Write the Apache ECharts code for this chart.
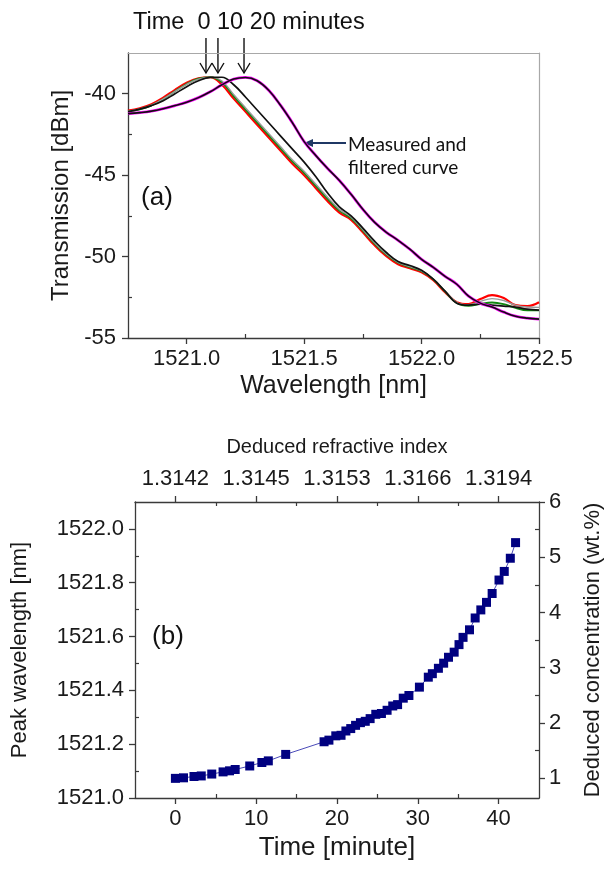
<!DOCTYPE html>
<html>
<head>
<meta charset="utf-8">
<title>Peak wavelength shift</title>
<script src="https://cdn.jsdelivr.net/npm/echarts@6.0.0/dist/echarts.min.js"></script>
<style>
  html, body { margin: 0; padding: 0; background: #fff; }
  #chart { width: 606px; height: 869px; }
</style>
</head>
<body>
<div id="chart"></div>
<script>
var wavelength = [1520.75, 1520.80, 1520.85, 1520.90, 1520.95, 1521.00, 1521.05, 1521.10, 1521.15, 1521.20,
  1521.25, 1521.30, 1521.35, 1521.40, 1521.45, 1521.50, 1521.55, 1521.60, 1521.65, 1521.70,
  1521.75, 1521.80, 1521.85, 1521.90, 1521.95, 1522.00, 1522.05, 1522.10, 1522.15, 1522.20,
  1522.25, 1522.30, 1522.35, 1522.40, 1522.45, 1522.50];

var specRed = [-41.04, -40.89, -40.64, -40.24, -39.76, -39.33, -39.05, -38.99, -39.45, -40.30,
  -41.10, -41.90, -42.70, -43.50, -44.30, -45.00, -45.80, -46.60, -47.30, -47.75,
  -48.51, -49.31, -49.98, -50.47, -50.72, -50.96, -51.45, -52.19, -52.80, -52.92,
  -52.61, -52.37, -52.55, -52.98, -53.04, -52.80];

var specGreen = [-41.10, -40.96, -40.72, -40.33, -39.85, -39.40, -39.08, -38.98, -39.30, -40.15,
  -40.96, -41.76, -42.56, -43.36, -44.16, -44.86, -45.66, -46.46, -47.18, -47.65,
  -48.40, -49.20, -49.88, -50.38, -50.65, -50.90, -51.40, -52.15, -52.85, -53.02,
  -52.90, -52.82, -52.92, -53.15, -53.30, -53.30];

var specGray = [-41.08, -40.93, -40.70, -40.32, -39.86, -39.42, -39.10, -38.98, -39.22, -40.05,
  -40.86, -41.66, -42.46, -43.26, -44.06, -44.76, -45.56, -46.36, -47.10, -47.58,
  -48.35, -49.15, -49.84, -50.35, -50.62, -50.88, -51.38, -52.12, -52.82, -52.95,
  -52.75, -52.58, -52.70, -52.98, -53.10, -53.12];

// 10 minutes
var specTen = [-41.10, -40.95, -40.73, -40.43, -40.00, -39.57, -39.20, -39.00, -38.99, -39.45,
  -40.20, -41.00, -41.80, -42.60, -43.40, -44.20, -45.10, -46.10, -46.95, -47.50,
  -48.25, -49.05, -49.75, -50.30, -50.55, -50.84, -51.39, -52.12, -52.86, -52.98,
  -52.92, -52.98, -53.04, -53.10, -53.23, -53.29];

// 20 minutes (measured and filtered)
var specTwenty = [-41.22, -41.16, -41.07, -40.92, -40.73, -40.52, -40.24, -39.88, -39.45, -39.10,
  -39.00, -39.20, -39.80, -40.72, -41.78, -42.94, -43.80, -44.59, -45.33, -46.18,
  -47.10, -47.90, -48.51, -49.00, -49.55, -50.17, -50.66, -51.21, -51.70, -52.43,
  -52.86, -53.10, -53.41, -53.66, -53.78, -53.84];

var arrowWavelengths = [1521.082, 1521.133, 1521.244];

// ---- (b) peak wavelength vs time ----
var timeMin = [0, 1.0, 2.3, 3.2, 4.5, 5.9, 6.7, 7.4, 9.2, 10.7, 11.5, 13.65,
  18.4, 19.0, 19.85, 20.5, 21.1, 21.7, 22.3, 22.9, 23.5, 24.1, 24.8, 25.5, 26.2, 26.9,
  27.5, 28.2, 28.9, 30.2, 31.3, 31.8, 32.55, 33.2, 33.8, 34.5, 35.1, 35.6, 36.4, 37.1,
  37.8, 38.5, 39.2, 40.05, 40.7, 41.45, 42.1];
var peakNm = [1521.073, 1521.075, 1521.080, 1521.082, 1521.089, 1521.097, 1521.101, 1521.106, 1521.119, 1521.132, 1521.138, 1521.162,
  1521.209, 1521.215, 1521.231, 1521.233, 1521.249, 1521.258, 1521.270, 1521.280, 1521.285, 1521.295, 1521.311, 1521.314, 1521.326, 1521.342,
  1521.347, 1521.371, 1521.381, 1521.412, 1521.449, 1521.462, 1521.482, 1521.501, 1521.523, 1521.542, 1521.570, 1521.597, 1521.625, 1521.669,
  1521.699, 1521.727, 1521.760, 1521.810, 1521.842, 1521.891, 1521.949];

// tick labels
var wlTicks = [1521.0, 1521.5, 1522.0, 1522.5];
var wlMinor = [1521.25, 1521.75, 1522.25];
var dbTicks = [-55, -50, -45, -40];
var dbMinor = [-52.5, -47.5, -42.5];
var timeTicks = [0, 10, 20, 30, 40];
var timeMinor = [5, 15, 25, 35];
var refIndexLabels = ['1.3142', '1.3145', '1.3153', '1.3166', '1.3194'];
var peakTicks = [1521.0, 1521.2, 1521.4, 1521.6, 1521.8, 1522.0];
var peakMinor = [1521.1, 1521.3, 1521.5, 1521.7, 1521.9];
var concTicks = [1, 2, 3, 4, 5, 6];
var concMinor = [1.5, 2.5, 3.5, 4.5, 5.5];

var FONT = 'Liberation Sans';
var LINE = '#3a3a3a';
var INK = '#1a1a1a';

function pairs(xs, ys) {
  return xs.map(function (x, i) { return [x, ys[i]]; });
}

// main axis: line, outward major ticks, labels
function majorAxis(o) {
  return {
    type: 'value', gridIndex: o.grid, position: o.pos, min: o.min, max: o.max,
    axisLine: { show: true, onZero: false, lineStyle: { color: LINE, width: 1.3 } },
    axisTick: { show: true, inside: false, length: 6, lineStyle: { color: LINE, width: 1.3 }, customValues: o.ticks },
    axisLabel: {
      show: true, customValues: o.ticks, margin: o.margin, color: INK,
      fontFamily: FONT, fontSize: 22, formatter: o.fmt
    },
    splitLine: { show: false },
    name: o.name, nameLocation: 'middle', nameGap: o.nameGap,
    nameTextStyle: { fontFamily: FONT, fontSize: o.nameSize, color: INK }
  };
}
// overlay axis for the short inward minor ticks
function minorAxis(grid, pos, min, max, ticks) {
  return {
    type: 'value', gridIndex: grid, position: pos, min: min, max: max,
    axisLine: { show: false, onZero: false },
    axisTick: { show: true, inside: true, length: 4, lineStyle: { color: LINE, width: 1.2 }, customValues: ticks },
    axisLabel: { show: false },
    splitLine: { show: false }
  };
}
function borderAxis(grid, pos, min, max) {
  return {
    type: 'value', gridIndex: grid, position: pos, min: min, max: max,
    axisLine: { show: true, onZero: false, lineStyle: { color: '#a8a8a8', width: 1.2 } },
    axisTick: { show: false }, axisLabel: { show: false }, splitLine: { show: false }
  };
}

var option = {
  backgroundColor: '#fff',
  animation: false,
  grid: [
    { left: 128, top: 53, right: 67, bottom: 531, outerBoundsMode: 'none' },
    { left: 135, top: 502, right: 67, bottom: 71, outerBoundsMode: 'none' }
  ],
  xAxis: [
    majorAxis({ grid: 0, pos: 'bottom', min: 1520.75, max: 1522.5, ticks: wlTicks, margin: 10,
      fmt: function (v) { return v.toFixed(1); }, name: 'Wavelength [nm]', nameGap: 36, nameSize: 25 }),
    minorAxis(0, 'bottom', 1520.75, 1522.5, wlMinor),
    borderAxis(0, 'top', 1520.75, 1522.5),
    majorAxis({ grid: 1, pos: 'bottom', min: -5, max: 45, ticks: timeTicks, margin: 10,
      fmt: function (v) { return String(v); }, name: 'Time [minute]', nameGap: 37, nameSize: 26 }),
    minorAxis(1, 'bottom', -5, 45, timeMinor),
    majorAxis({ grid: 1, pos: 'top', min: -5, max: 45, ticks: timeTicks, margin: 12,
      fmt: function (v) { return refIndexLabels[timeTicks.indexOf(v)]; },
      name: 'Deduced refractive index', nameGap: 45, nameSize: 20 }),
    minorAxis(1, 'top', -5, 45, timeMinor)
  ],
  yAxis: [
    majorAxis({ grid: 0, pos: 'left', min: -55, max: -37.5, ticks: dbTicks, margin: 12,
      fmt: function (v) { return String(v); }, name: 'Transmission [dBm]', nameGap: 52, nameSize: 24 }),
    minorAxis(0, 'left', -55, -37.5, dbMinor),
    borderAxis(0, 'right', -55, -37.5),
    majorAxis({ grid: 1, pos: 'left', min: 1521.0, max: 1522.1, ticks: peakTicks, margin: 11,
      fmt: function (v) { return v.toFixed(1); }, name: 'Peak wavelength [nm]', nameGap: 104, nameSize: 22 }),
    minorAxis(1, 'left', 1521.0, 1522.1, peakMinor),
    majorAxis({ grid: 1, pos: 'right', min: 0.64, max: 6, ticks: concTicks, margin: 10,
      fmt: function (v) { return String(v); }, name: 'Deduced concentration (wt.%)', nameGap: 43, nameSize: 22 }),
    minorAxis(1, 'right', 0.64, 6, concMinor)
  ],
  series: [
    { type: 'line', xAxisIndex: 0, yAxisIndex: 0, data: pairs(wavelength, specRed), smooth: 0.4, symbol: 'none',
      lineStyle: { color: '#ff0000', width: 2.2 }, z: 2 },
    { type: 'line', xAxisIndex: 0, yAxisIndex: 0, data: pairs(wavelength, specGreen), smooth: 0.4, symbol: 'none',
      lineStyle: { color: '#118811', width: 1.8 }, z: 3 },
    { type: 'line', xAxisIndex: 0, yAxisIndex: 0, data: pairs(wavelength, specGray), smooth: 0.4, symbol: 'none',
      lineStyle: { color: '#9a9a9a', width: 1.4 }, z: 4 },
    { type: 'line', xAxisIndex: 0, yAxisIndex: 0, data: pairs(wavelength, specTen), smooth: 0.4, symbol: 'none',
      lineStyle: { color: '#111111', width: 1.7 }, z: 5 },
    { type: 'line', xAxisIndex: 0, yAxisIndex: 0, data: pairs(wavelength, specTwenty), smooth: 0.4, symbol: 'none',
      lineStyle: { color: '#ff00ff', width: 2.8 }, z: 6 },
    { type: 'line', xAxisIndex: 0, yAxisIndex: 0, data: pairs(wavelength, specTwenty), smooth: 0.4, symbol: 'none',
      lineStyle: { color: '#111111', width: 1.6 }, z: 7 },
    { type: 'line', xAxisIndex: 3, yAxisIndex: 3, data: pairs(timeMin, peakNm), symbol: 'rect', symbolSize: 9,
      showAllSymbol: true, itemStyle: { color: '#000080' }, lineStyle: { color: '#4a4ab8', width: 1 }, z: 5 }
  ]
};

var chart = echarts.init(document.getElementById('chart'), null, { renderer: 'canvas' });
chart.setOption(option);

// annotations placed through the axis scales
var graphics = [];
var arrowTop = 38, arrowTip = 73;
arrowWavelengths.forEach(function (w) {
  var x = chart.convertToPixel({ xAxisIndex: 0 }, w);
  graphics.push({ type: 'line', shape: { x1: x, y1: arrowTop, x2: x, y2: arrowTip },
    style: { stroke: '#111', lineWidth: 1.4 } });
  graphics.push({ type: 'polyline', shape: { points: [[x - 6, arrowTip - 10], [x, arrowTip], [x + 6, arrowTip - 10]] },
    style: { stroke: '#111', lineWidth: 1.4, fill: null } });
});
graphics.push({ type: 'text', x: 133, y: 23, style: { text: 'Time  0 10 20 minutes', font: '23.5px ' + FONT,
  fill: '#111', verticalAlign: 'middle' } });
graphics.push({ type: 'text', x: 157, y: 198, style: { text: '(a)', font: '26px ' + FONT, fill: '#111',
  align: 'center', verticalAlign: 'middle' } });
graphics.push({ type: 'text', x: 168, y: 637, style: { text: '(b)', font: '26px ' + FONT, fill: '#111',
  align: 'center', verticalAlign: 'middle' } });
graphics.push({ type: 'line', shape: { x1: 346, y1: 143, x2: 311, y2: 143 }, style: { stroke: '#1f3864', lineWidth: 2 } });
graphics.push({ type: 'polygon', shape: { points: [[304, 143], [313, 139], [313, 147]] }, style: { fill: '#1f3864' } });
graphics.push({ type: 'text', x: 348, y: 145, style: { text: 'Measured and', font: '19px Lato', fill: '#111',
  verticalAlign: 'middle' } });
graphics.push({ type: 'text', x: 348, y: 168, style: { text: 'filtered curve', font: '19px Lato', fill: '#111',
  verticalAlign: 'middle' } });
chart.setOption({ graphic: graphics });
</script>
</body>
</html>
